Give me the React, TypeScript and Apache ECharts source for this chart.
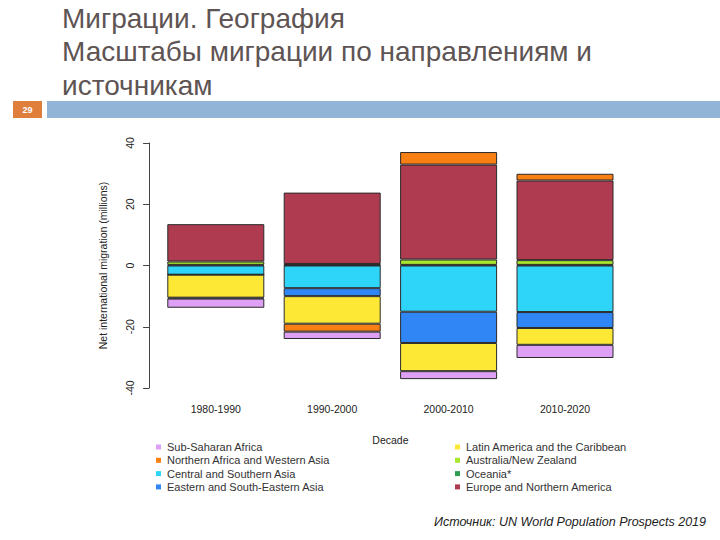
import React, { useEffect, useRef } from "react";
import * as echarts from "echarts";

const decades = ["1980-1990", "1990-2000", "2000-2010", "2010-2020"];
const centralSouthernAsia = [-3.0, -7.4, -15.1, -15.2];
const easternSouthEasternAsia = [0, -2.6, -10.2, -5.2];
const latinAmerica = [-7.5, -9.0, -9.2, -5.5];
const oceania = [0.2, 0.1, 0.2, 0.2];
const australiaNZ = [1.1, 0.4, 1.75, 1.55];
const europeNorthAmerica = [12.2, 23.3, 31.0, 26.0];
const northernAfricaWesternAsia = [-0.3, -2.6, 4.1, 2.2];
const subSaharanAfrica = [-3.0, -2.4, -2.6, -4.3];
const yTicks = { min: -40, max: 40, interval: 20 };

const titleLines = [
  "Миграции. География",
  "Масштабы миграции по направлениям и",
  "источникам",
];

const FONT = "Liberation Sans, Arial, Helvetica, sans-serif";

const seriesDefs = [
  { name: "Central and Southern Asia", data: centralSouthernAsia, color: "#2ED5F8" },
  { name: "Eastern and South-Eastern Asia", data: easternSouthEasternAsia, color: "#2F86F4" },
  { name: "Latin America and the Caribbean", data: latinAmerica, color: "#FDE935" },
  { name: "Oceania*", data: oceania, color: "#2E9E50" },
  { name: "Australia/New Zealand", data: australiaNZ, color: "#A8E630" },
  { name: "Europe and Northern America", data: europeNorthAmerica, color: "#AE3B4F" },
  { name: "Northern Africa and Western Asia", data: northernAfricaWesternAsia, color: "#F77F14" },
  { name: "Sub-Saharan Africa", data: subSaharanAfrica, color: "#DDA0F5" },
];

const legendCol1 = [
  "Sub-Saharan Africa",
  "Northern Africa and Western Asia",
  "Central and Southern Asia",
  "Eastern and South-Eastern Asia",
];
const legendCol2 = [
  "Latin America and the Caribbean",
  "Australia/New Zealand",
  "Oceania*",
  "Europe and Northern America",
];

export default function App() {
  const ref = useRef<HTMLDivElement>(null);
  useEffect(() => {
    document.body.style.margin = "0";
    const chart = echarts.init(ref.current as HTMLDivElement, null, { renderer: "svg" });
    const legendCommon = {
      orient: "vertical" as const,
      icon: "rect",
      itemWidth: 5,
      itemHeight: 5,
      itemGap: 0.3,
      padding: 0,
      itemStyle: { borderWidth: 0 },
      textStyle: { fontFamily: FONT, fontSize: 11, color: "#333", lineHeight: 13, padding: [0, 0, 0, 1] },
    };
    chart.setOption({
      animation: false,
      backgroundColor: "#ffffff",
      grid: { left: 157.6, right: 96.8, top: 143, bottom: 152, containLabel: false },
      legend: [
        { ...legendCommon, left: 156, top: 440.5, data: legendCol1 },
        { ...legendCommon, left: 455, top: 440.5, data: legendCol2 },
      ],
      xAxis: {
        type: "category",
        data: decades,
        name: "Decade",
        nameLocation: "middle",
        nameGap: 46,
        nameTextStyle: { fontFamily: FONT, fontSize: 10.5, color: "#222" },
        axisLine: { show: false },
        axisTick: { show: false },
        axisLabel: { fontFamily: FONT, fontSize: 10.5, color: "#222", margin: 15 },
      },
      yAxis: {
        type: "value",
        min: yTicks.min,
        max: yTicks.max,
        interval: yTicks.interval,
        offset: 8.5,
        name: "Net international migration (millions)",
        nameLocation: "middle",
        nameRotate: 90,
        nameGap: 41,
        nameTextStyle: { fontFamily: FONT, fontSize: 10.5, color: "#222" },
        axisLine: { show: true, lineStyle: { color: "#444", width: 1 } },
        axisTick: { show: true, length: 6, lineStyle: { color: "#444" } },
        axisLabel: { rotate: 90, fontFamily: FONT, fontSize: 10.5, color: "#222", margin: 14 },
        splitLine: { show: false },
      },
      series: seriesDefs.map((s) => ({
        name: s.name,
        type: "bar",
        stack: "total",
        data: s.data,
        barWidth: 97,
        itemStyle: { color: s.color, borderColor: "#2a2a2a", borderWidth: 1 },
      })),
      graphic: [
        ...titleLines.map((t, i) => ({
          type: "text",
          left: 62,
          top: 4 + i * 33.5,
          style: { text: t, font: `28px ${FONT}`, fill: "#5e5454" },
        })),
        { type: "rect", shape: { x: 13, y: 101, width: 29, height: 17 }, style: { fill: "#E07E3C" } },
        {
          type: "text",
          x: 27.5,
          y: 110,
          style: { text: "29", font: `bold 9px ${FONT}`, fill: "#ffffff", align: "center", verticalAlign: "middle" },
        },
        { type: "rect", shape: { x: 47, y: 101, width: 673, height: 17 }, style: { fill: "#92B4D6" } },
        {
          type: "text",
          x: 706,
          y: 522,
          style: {
            text: "Источник: UN World Population Prospects 2019",
            font: `italic 12.5px ${FONT}`,
            fill: "#222",
            align: "right",
            verticalAlign: "middle",
          },
        },
      ],
    });
    return () => chart.dispose();
  }, []);
  return <div ref={ref} style={{ position: "absolute", left: 0, top: 0, width: 720, height: 540 }} />;
}
